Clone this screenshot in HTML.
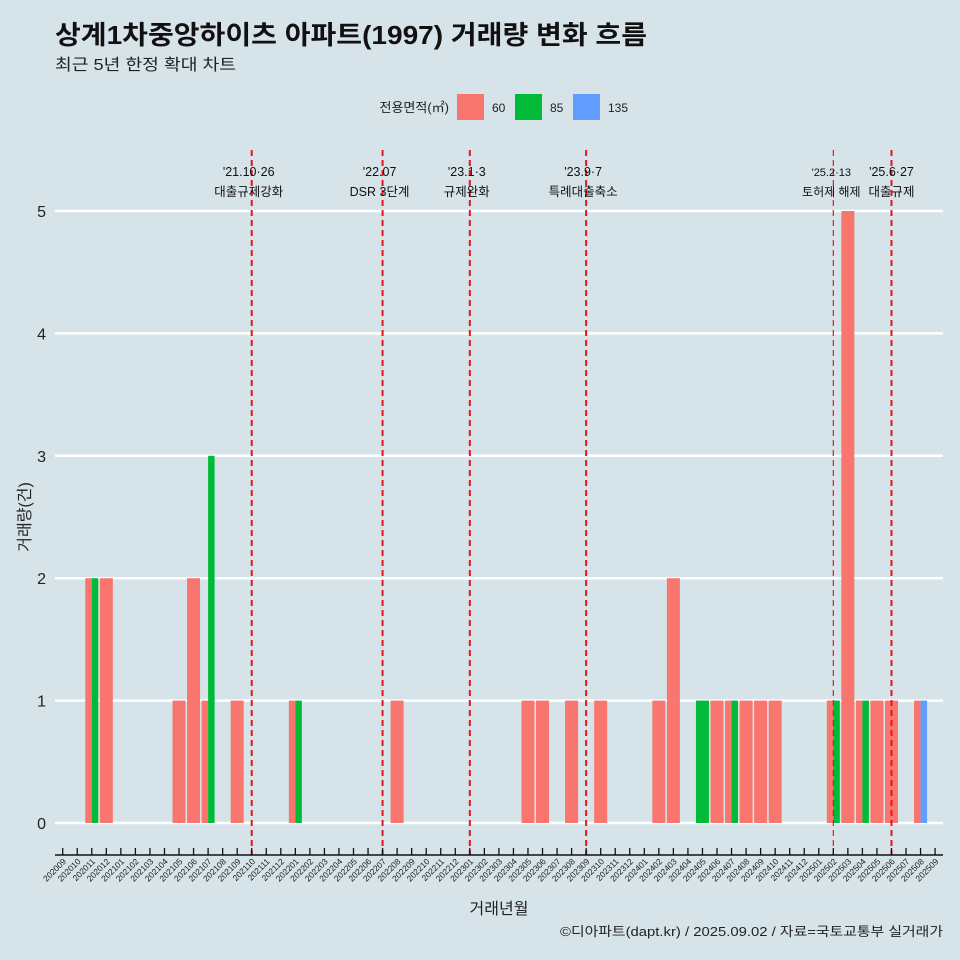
<!DOCTYPE html>
<html><head><meta charset="utf-8"><style>
body{margin:0;background:#d6e4ea;}
svg{display:block;font-family:"Liberation Sans","Noto Sans CJK KR",sans-serif;}
</style></head><body>
<svg id="chart" width="960" height="960" viewBox="0 0 960 960">
<rect width="960" height="960" fill="#d6e4ea"/>
<text x="55" y="44" font-size="26" font-weight="bold" fill="#111" textLength="592" lengthAdjust="spacingAndGlyphs">상계1차중앙하이츠 아파트(1997) 거래량 변화 흐름</text>
<text x="55" y="70" font-size="16" fill="#222" textLength="181" lengthAdjust="spacingAndGlyphs">최근 5년 한정 확대 차트</text>
<g>
<text x="449" y="112" font-size="13" text-anchor="end" fill="#222">전용면적(㎡)</text>
<rect x="457" y="94" width="27" height="26" fill="#f8766d"/>
<text x="492" y="112" font-size="12" fill="#222">60</text>
<rect x="515" y="94" width="27" height="26" fill="#00ba38"/>
<text x="550" y="112" font-size="12" fill="#222">85</text>
<rect x="573" y="94" width="27" height="26" fill="#619cff"/>
<text x="608" y="112" font-size="12" fill="#222">135</text>
</g>
<g id="grid"></g><g id="bars"></g><g id="events"></g><g id="axes"></g>
<text x="30" y="517" font-size="16" fill="#222" text-anchor="middle" transform="rotate(-90 30 517)">거래량(건)</text>
<text x="499" y="914" font-size="16" fill="#222" text-anchor="middle">거래년월</text>
<text x="943" y="936" font-size="13" fill="#222" text-anchor="end" textLength="383" lengthAdjust="spacingAndGlyphs">©디아파트(dapt.kr) / 2025.09.02 / 자료=국토교통부 실거래가</text>
</svg>
<script>
const months=[];for(let y=2020,m=9;!(y===2025&&m===10);){months.push(y+String(m).padStart(2,'0'));m++;if(m>12){m=1;y++;}}
const barMonths=['202011','202011','202012','202105','202106','202107','202107','202109','202201','202201','202208','202305','202306','202308','202310','202402','202403','202405','202406','202407','202407','202408','202409','202410','202502','202502','202503','202504','202504','202505','202506','202508','202508'];
const barSizes=['60','85','60','60','60','60','85','60','60','85','60','60','60','60','60','60','60','85','60','60','85','60','60','60','60','85','60','60','85','60','60','60','135'];
const barCounts=[2,2,2,1,2,1,3,1,1,1,1,1,1,1,1,1,2,1,1,1,1,1,1,1,1,1,5,1,1,1,1,1,1];
const yTicks=[0,1,2,3,4,5];
const eventMonths=['202110','202207','202301','202309','202502','202506'];
const eventDates=["'21.10·26","'22.07","'23.1·3","'23.9·7","'25.2·13","'25.6·27"];
const eventNames=['대출규제강화','DSR 3단계','규제완화','특례대출축소','토허제 해제','대출규제'];
const colors={'60':'#f8766d','85':'#00ba38','135':'#619cff'};
const NS='http://www.w3.org/2000/svg';
const x=m=>62.7+months.indexOf(m)*14.54;
const y=v=>823-v*122.4;
function mk(t,a,p){const e=document.createElementNS(NS,t);for(const k in a)e.setAttribute(k,a[k]);p.appendChild(e);return e;}
const grid=document.getElementById('grid');
yTicks.forEach(v=>{
 const l=mk('line',{x1:55,x2:943,y1:y(v),y2:y(v),stroke:'#fff','stroke-width':2.5},grid);
 
 
 const t=mk('text',{x:46,y:y(v)+6,'font-size':16,'text-anchor':'end',fill:'#222'},grid);t.textContent=v;
 
 
});
const bars=document.getElementById('bars');
const bw=13;
const groups={};barMonths.forEach((m,i)=>{(groups[m]=groups[m]||[]).push(i);});
Object.keys(groups).forEach(m=>{
 const idx=groups[m],w=bw/idx.length;
 idx.forEach((i,j)=>{
  const r=mk('rect',{x:x(m)-bw/2+j*w,y:y(barCounts[i]),width:w,height:y(0)-y(barCounts[i]),fill:colors[barSizes[i]]},bars);
  
  
 });
});
const ev=document.getElementById('events');
eventMonths.forEach((m,i)=>{
 const thin=m==='202502';
 const l=mk('line',{x1:x(m),x2:x(m),y1:150,y2:855,stroke:'#e8141c','stroke-width':thin?1.2:2,'stroke-dasharray':'6,4'},ev);
 
 
 const cx=x(m)+(m==='202506'?0:(m==='202502'?-2:-3));
 const t1=mk('text',{x:cx,y:176,'font-size':thin?11:12.5,'text-anchor':'middle',fill:'#111'},ev);t1.textContent=eventDates[i];
 
 
 const t2=mk('text',{x:cx,y:196,'font-size':thin?12:12.5,'text-anchor':'middle',fill:'#111'},ev);t2.textContent=eventNames[i];
 
 
});
const ax=document.getElementById('axes');
const al=mk('line',{x1:55,x2:943,y1:855,y2:855,stroke:'#111','stroke-width':1.5},ax);


months.forEach(m=>{
 const tk=mk('line',{x1:x(m),x2:x(m),y1:848,y2:855,stroke:'#111','stroke-width':1.3},ax);
 
 
 const t=mk('text',{x:x(m)+4,y:862,'font-size':8.5,'text-anchor':'end',fill:'#222',transform:`rotate(-45 ${x(m)+4} 862)`},ax);t.textContent=m;
 
 
});
</script>
</body></html>
